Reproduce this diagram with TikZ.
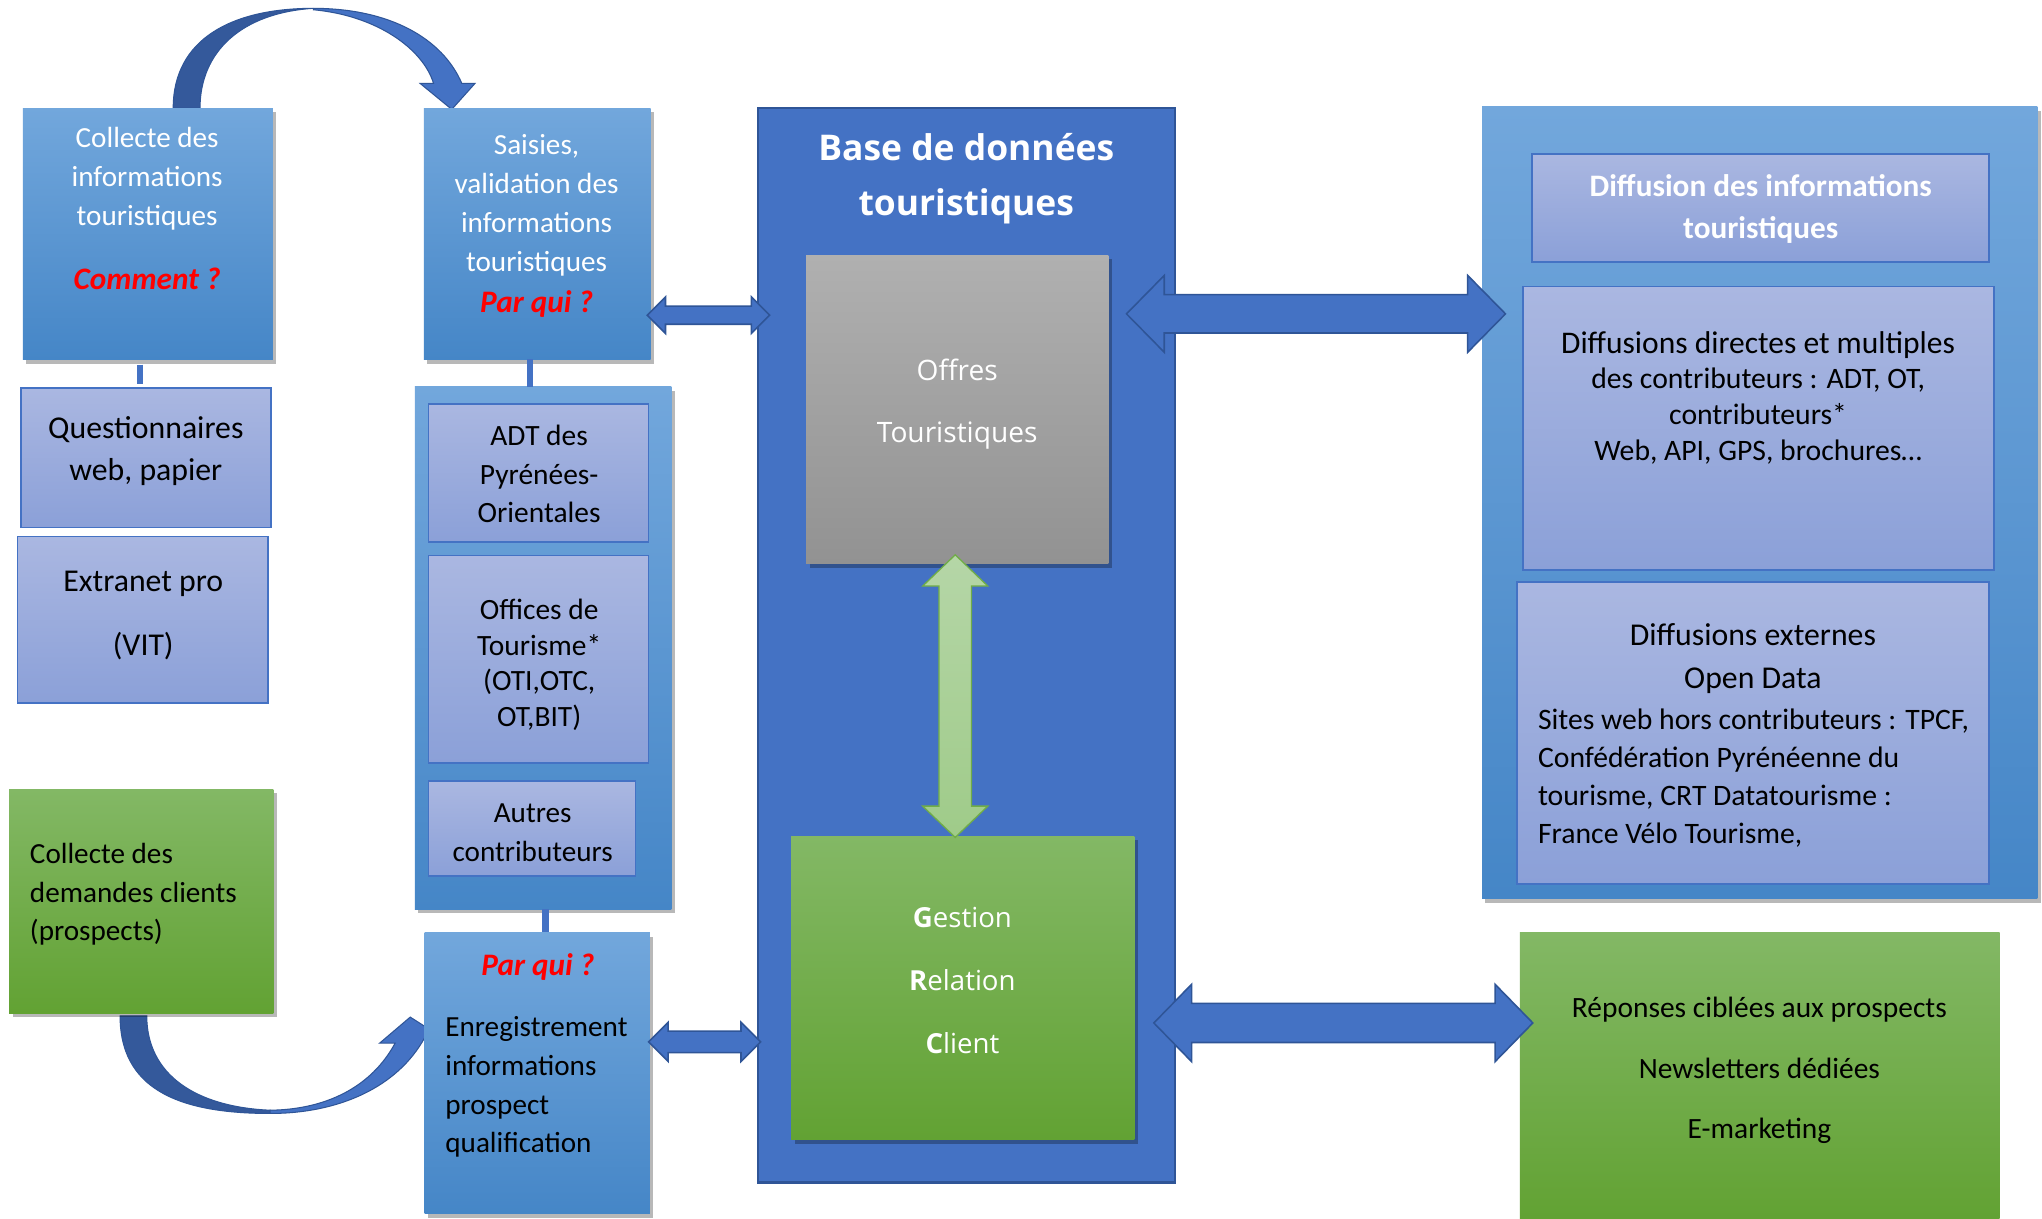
\documentclass[tikz,border=0pt]{standalone}
\usepackage{fontspec}
\setmainfont{Carlito}
\newfontfamily\osans{Open Sans}
\usetikzlibrary{fit,calc,shadows}
\definecolor{bgtop}{HTML}{72A7DC}
\definecolor{bgbot}{HTML}{4586C7}
\definecolor{lavtop}{HTML}{AAB7E1}
\definecolor{lavbot}{HTML}{8BA0D8}
\definecolor{dbblue}{HTML}{4472C4}
\definecolor{dbline}{HTML}{2F5597}
\definecolor{curvedark}{HTML}{34599B}
\definecolor{grtop}{HTML}{83B865}
\definecolor{grbot}{HTML}{62A233}
\definecolor{graytop}{HTML}{B0B0B0}
\definecolor{graybot}{HTML}{929292}
\definecolor{lgtop}{HTML}{B5D6A7}
\definecolor{lgbot}{HTML}{9FCB89}
\definecolor{lgline}{HTML}{70AD47}
\definecolor{qred}{HTML}{FF0000}
\newcommand\hdbl[6]{%
  \path[#6] (#1) -- ($(#1)+(#5,-#4)$) -- ($(#1)+(#5,-#3)$) -- ($(#2)+(-#5,-#3)$) -- ($(#2)+(-#5,-#4)$) -- (#2)
   -- ($(#2)+(-#5,#4)$) -- ($(#2)+(-#5,#3)$) -- ($(#1)+(#5,#3)$) -- ($(#1)+(#5,#4)$) -- cycle;}
\newcommand\vdbl[6]{%
  \path[#6] (#1) -- ($(#1)+(-#4,#5)$) -- ($(#1)+(-#3,#5)$) -- ($(#2)+(-#3,-#5)$) -- ($(#2)+(-#4,-#5)$) -- (#2)
   -- ($(#2)+(#4,-#5)$) -- ($(#2)+(#3,-#5)$) -- ($(#1)+(#3,#5)$) -- ($(#1)+(#4,#5)$) -- cycle;}
\tikzset{
  shd/.style={drop shadow={shadow xshift=1.3pt, shadow yshift=-1.6pt, opacity=0.28, fill=black}},
  bluegrad/.style={top color=bgtop, bottom color=bgbot, draw=none},
  lavbox/.style={top color=lavtop, bottom color=lavbot, draw=dbblue, line width=0.7pt},
  greenbox/.style={top color=grtop, bottom color=grbot, draw=none},
  graybox/.style={top color=graytop, bottom color=graybot, draw=none},
  dbbox/.style={fill=dbblue, draw=dbline, line width=0.9pt},
  tshift/.style={yshift=-1.2pt},
  wtxt/.style={tshift, text=white, align=center, font=\fontsize{11.2}{15}\selectfont},
  btxt/.style={tshift, text=black, align=center, font=\fontsize{11.2}{15}\selectfont},
  redq/.style={tshift, text=qred, font=\fontsize{12}{14}\selectfont\bfseries\itshape},
  bar/.style={draw=dbblue, line width=2.6pt},
  blockarrow/.style={fill=dbblue, draw=dbline, line width=0.6pt},
  greenarrow/.style={top color=lgtop, bottom color=lgbot, draw=lgline, line width=0.5pt},
  curvedarrowdark/.style={fill=curvedark, draw=dbline, line width=0.4pt},
  curvedarrowlight/.style={fill=dbblue, draw=dbline, line width=0.4pt}
}
\begin{document}
\begin{tikzpicture}[x=0.5pt,y=-0.5pt, every node/.style={inner sep=0pt, outer sep=0pt}]
\useasboundingbox (0,0) rectangle (1568,936);
\fill[white] (0,0) rectangle (1568,936);

% curved arrows (shapes)
\path[curvedarrowdark] (133,83) .. controls (133,30) and (178,6.4) .. (240.6,6.4)
  .. controls (185,10) and (153.6,40) .. (153.6,83) -- cycle;
\path[curvedarrowlight] (240.6,6.4) .. controls (300,6.4) and (340,30) .. (354.6,64) -- (364.8,64) -- (346.9,84)
  -- (322.5,64) -- (332.9,64) .. controls (325,38) and (290,12) .. (240.6,7.5) -- cycle;
\path[curvedarrowdark] (92.2,780) .. controls (92.2,835) and (135,855) .. (207.4,855) -- (207.4,852.5)
  .. controls (150,850) and (112.7,825) .. (112.7,780) -- cycle;
\path[curvedarrowlight] (207.4,855) .. controls (260,855) and (305,835) .. (326,797) -- (338,795.6) -- (315,781)
  -- (291.5,801) -- (303.4,801) .. controls (285,835) and (250,852) .. (207.4,852.5) -- cycle;

% left column
\node[bluegrad, shd, fit={(17.5,83) (209.5,276)}] (collecte) {};
\node[lavbox, fit={(16,298) (208,405)}] (quest) {};
\node[lavbox, fit={(13.5,412) (205.5,540)}] (extranet) {};
\node[greenbox, shd, fit={(7,606) (210,778)}] (greenL) {};

% second column
\node[bluegrad, shd, fit={(325.5,83) (499.5,276)}] (saisies) {};
\node[bluegrad, shd, fit={(318.5,297) (515.5,698)}] (panel) {};
\node[lavbox, fit={(329,310) (498,416)}] (adt) {};
\node[lavbox, fit={(329,426.5) (498,586)}] (offices) {};
\node[lavbox, fit={(329,600) (488,672.5)}] (autres) {};
\node[bluegrad, shd, fit={(326,716) (499,932)}] (parqui) {};

% database
\node[dbbox, fit={(582,83) (902,908)}] (db) {};
\node[graybox, shd, fit={(619,196) (851,433)}] (offres) {};
\node[greenbox, shd, fit={(607.5,642) (871,875)}] (grc) {};

% right column
\node[bluegrad, shd, fit={(1138,82) (1564.5,690)}] (diffpanel) {};
\node[lavbox, fit={(1176.5,118) (1527.5,201)}] (difftitle) {};
\node[lavbox, fit={(1169.5,220) (1531,438)}] (diff2) {};
\node[lavbox, fit={(1165,447) (1527,678.5)}] (diff3) {};
\node[greenbox, fit={(1167,716) (1535.5,936)}] (greenR) {};

% small connectors
\draw[bar] ($(collecte.south)+(-6,4)$) -- ($(collecte.south |- quest.north)+(-6,-3)$);
\draw[bar] ($(saisies.south)+(-5.5,0)$) -- ($(saisies.south |- panel.north)+(-5.5,0)$);
\draw[bar] ($(panel.south)+(2,0)$) -- ($(panel.south |- parqui.north)+(2,0)$);

% texts
\node[wtxt] (collecte-t) at (113,135) {Collecte des\\informations\\touristiques};
\node[redq] (collecte-q) at (113,212) {Comment ?};
\node[wtxt] (saisies-t) at (412,155) {Saisies,\\validation des\\informations\\touristiques};
\node[redq] (saisies-q) at (412,231) {Par qui ?};
\node[btxt, font=\fontsize{12.2}{16}\selectfont] (quest-t) at (112,344) {Questionnaires\\web, papier};
\node[btxt, font=\fontsize{12.2}{24.5}\selectfont] (extranet-t) at (110,470.5) {Extranet pro\\(VIT)};
\node[btxt, font=\fontsize{11.3}{14.75}\selectfont] (adt-t) at (414,361.5) {ADT des\\Pyrénées-\\Orientales};
\node[btxt, font=\fontsize{11.3}{13.7}\selectfont] (offices-t) at (414,508) {Offices de\\Tourisme*\\(OTI,OTC,\\OT,BIT)};
\node[btxt] (autres-t) at (409,637) {Autres\\contributeurs};
\node[btxt, align=left, anchor=west, font=\fontsize{11.2}{14.75}\selectfont] (greenL-t) at (23,684.5) {Collecte des\\demandes clients\\(prospects)};
\node[redq] (parqui-q) at (413,740) {Par qui ?};
\node[btxt, align=left, anchor=west, font=\fontsize{11.2}{14.85}\selectfont] (parqui-t) at (342,832.5) {Enregistrement\\informations\\prospect\\qualification};
\node[wtxt, font=\osans\bfseries\fontsize{13.6}{21}\selectfont] (db-t) at (742,135) {Base de données\\touristiques};
\node[wtxt, font=\osans\fontsize{10.8}{24}\selectfont] (offres-t) at (735,308) {Offres\\Touristiques};
\node[wtxt, font=\osans\fontsize{10.6}{24.25}\selectfont] (grc-t) at (739,750.5) {{\bfseries G}estion\\{\bfseries R}elation\\{\bfseries C}lient};
\node[wtxt, font=\bfseries\fontsize{12}{16}\selectfont] (difftitle-t) at (1352,158) {Diffusion des informations\\touristiques};
\node[btxt, font=\fontsize{11.4}{13.75}\selectfont] (diff2-t) at (1350,303) {{\fontsize{12.1}{13.75}\selectfont Diffusions directes et multiples}\\des contributeurs : ADT, OT,\\contributeurs*\\Web, API, GPS, brochures…};
\node[btxt, font=\fontsize{12.2}{16.5}\selectfont] (diff3-t) at (1346,503.5) {Diffusions externes\\Open Data};
\node[btxt, align=left, anchor=west, font=\fontsize{11.4}{14.65}\selectfont] (diff3-l) at (1181,595) {Sites web hors contributeurs : TPCF,\\Confédération Pyrénéenne du\\tourisme, CRT Datatourisme :\\France Vélo Tourisme,};
\node[btxt, font=\fontsize{11.3}{23.25}\selectfont] (greenR-t) at (1351,819.5) {Réponses ciblées aux prospects\\Newsletters dédiées\\E-marketing};

% block arrows between nodes
\coordinate (a1l) at ($(saisies.east |- 0,242)+(-2.5,0)$);
\coordinate (a1r) at ($(db.west |- 0,242)+(9,0)$);
\hdbl{a1l}{a1r}{7}{14}{14}{blockarrow}
\coordinate (a2l) at ($(db.east |- 0,241)+(-37,0)$);
\coordinate (a2r) at ($(diffpanel.west |- 0,241)+(18,0)$);
\hdbl{a2l}{a2r}{14.7}{29.5}{29}{blockarrow}
\coordinate (a3l) at ($(parqui.east |- 0,800)+(-1,0)$);
\coordinate (a3r) at ($(db.west |- 0,800)+(2,0)$);
\hdbl{a3l}{a3r}{8.3}{15}{15}{blockarrow}
\coordinate (a4l) at ($(db.east |- 0,785.5)+(-16,0)$);
\coordinate (a4r) at ($(greenR.west |- 0,785.5)+(10,0)$);
\hdbl{a4l}{a4r}{15}{29.7}{29}{blockarrow}
\coordinate (gt) at ($(offres.south -| 733.5,0)+(0,-7)$);
\coordinate (gb) at ($(grc.north -| 733.5,0)+(0,1)$);
\vdbl{gt}{gb}{12.5}{25}{24}{greenarrow}
\end{tikzpicture}
\end{document}
